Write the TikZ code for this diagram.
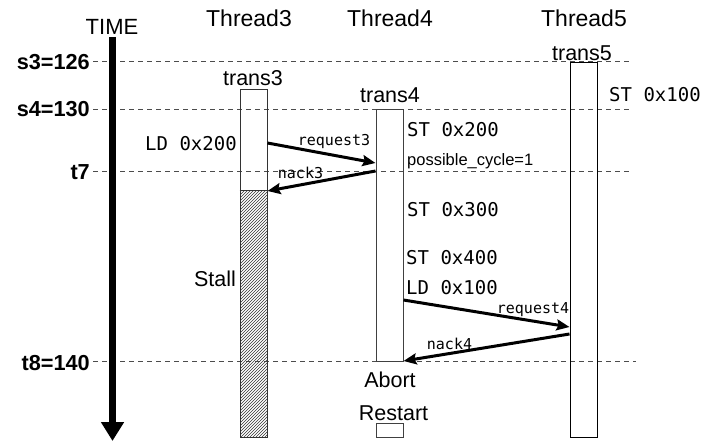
\documentclass[tikz,border=0pt]{standalone}
\usepackage{fontspec}
\setmainfont{Liberation Sans}
\newfontfamily\monof{DejaVu Sans Mono}
\usetikzlibrary{arrows.meta,patterns}
\tikzset{
  hdr/.style={inner sep=0pt, anchor=base, font=\fontsize{23}{27}\selectfont},
  lbl/.style={inner sep=0pt, anchor=base, font=\fontsize{21.5}{25}\selectfont},
  tlbl/.style={inner sep=0pt, anchor=east, font=\fontsize{21.7}{25}\selectfont\bfseries},
  code/.style={inner sep=0pt, anchor=west, font=\monof\fontsize{19}{22}\selectfont},
  msglbl/.style={inner sep=0pt, anchor=base, font=\monof\fontsize{15}{18}\selectfont},
  hline/.style={draw=black!70, line width=1pt, dash pattern=on 5pt off 4pt},
  txbox/.style={draw, line width=1pt, inner sep=0pt, minimum width=27pt},
  msg/.style={line width=3pt, -{Stealth[length=13pt,width=11pt,inset=2pt]}},
}
\begin{document}
\begin{tikzpicture}[x=1pt,y=-1pt]
\useasboundingbox (0,0) rectangle (704,444);
% headers
\node[lbl, font=\fontsize{22}{26}\selectfont] (time) at (112,35) {TIME};
\node[hdr] (th3) at (249,27) {Thread3};
\node[hdr] (th4) at (390,27) {Thread4};
\node[hdr] (th5) at (584,27) {Thread5};
% time labels and lines
\node[tlbl] (ls3) at (90,62) {s3=126};
\node[tlbl] (ls4) at (90,109) {s4=130};
\node[tlbl] (lt7) at (90,172) {t7};
\node[tlbl] (lt8) at (90,363) {t8=140};
\draw[hline] (93,62) -- (632,62);
\draw[hline] (93,109) -- (632,109);
\draw[hline] (93,171) -- (632,171);
\draw[hline] (93,361) -- (636,361);
% time arrow
\coordinate (tstart) at (112.5,37);
\coordinate (tend) at (112.5,441);
\draw[line width=7pt, -{Triangle[length=19pt,width=22pt]}] (tstart) -- (tend);
% thread3
\node[inner sep=0pt, minimum width=27pt, minimum height=246pt, pattern=north east lines, pattern color=black!80] (h3) at (253.5,314) {};
\node[txbox, draw=black!80, minimum height=348pt] (b3) at (253.5,263) {};
\draw[draw=black!80, line width=1pt] (b3.west |- h3.north) -- (b3.east |- h3.north);
\node[lbl] (tr3) at (253,85) {trans3};
\node[lbl] (stall) at (215,286) {Stall};
\node[code] (ld200) at (145,143.5) {LD 0x200};
% thread4
\node[txbox, draw=black!75, minimum height=252pt] (b4) at (389.5,235) {};
\node[lbl] (tr4) at (390,102) {trans4};
\node[lbl] (abort) at (390,387) {Abort};
\node[lbl] (restart) at (393.5,420) {Restart};
\node[txbox, draw=black!75, minimum height=14pt] (r4) at (389.5,430) {};
\node[code] (st200) at (407,130) {ST 0x200};
\node[inner sep=0pt, anchor=base west, font=\fontsize{16.5}{19}\selectfont] (pc) at (407,165.5) {possible\_cycle=1};
\node[code] (st300) at (407,210) {ST 0x300};
\node[code] (st400) at (406,258) {ST 0x400};
\node[code] (ld100) at (406,288) {LD 0x100};
% thread5
\node[txbox, minimum height=374pt] (b5) at (583.5,250) {};
\node[lbl] (tr5) at (582,61) {trans5};
\node[code] (st100) at (609,95) {ST 0x100};
% messages
\draw[msg] (b3.east |- 0,143) -- (b4.west |- 0,163);
\node[msglbl] (req3) at (334,145) {request3};
\draw[msg] (b4.west |- 0,171) -- (b3.east |- 0,191);
\node[msglbl] (nack3) at (300.5,178) {nack3};
\draw[msg] (b4.east |- 0,300) -- (b5.west |- 0,327);
\node[msglbl] (req4) at (533,313) {request4};
\draw[msg] (b5.west |- 0,334) -- (b4.east |- 0,361);
\node[msglbl] (nack4) at (449.5,349) {nack4};
\end{tikzpicture}
\end{document}
